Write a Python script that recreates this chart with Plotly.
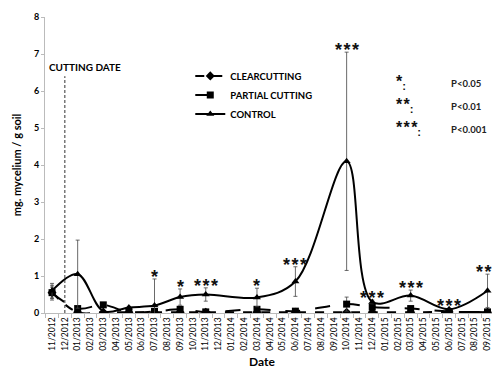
import plotly.graph_objects as go

# ---------------- data ----------------
all_months = ["11/2012", "12/2012"] + [f"{m:02d}/2013" for m in range(1, 13)] + \
             [f"{m:02d}/2014" for m in range(1, 13)] + [f"{m:02d}/2015" for m in range(1, 10)]

sample_months = ["11/2012", "01/2013", "03/2013", "05/2013", "07/2013", "09/2013", "11/2013",
                 "03/2014", "06/2014", "10/2014", "12/2014", "03/2015", "06/2015", "09/2015"]

clearcutting = [0.55, 0.02, 0.02, 0.02, 0.02, 0.02, 0.02, 0.02, 0.02, 0.02, 0.02, 0.02, 0.03, 0.02]
clear_err    = [0.15, 0.02, 0.02, 0.02, 0.02, 0.02, 0.02, 0.02, 0.02, 0.03, 0.02, 0.02, 0.02, 0.02]

partial      = [0.55, 0.12, 0.22, 0.02, 0.04, 0.10, 0.03, 0.10, 0.05, 0.24, 0.16, 0.12, 0.04, 0.03]
partial_err  = [0.20, 0.05, 0.05, 0.02, 0.03, 0.05, 0.02, 0.05, 0.03, 0.19, 0.05, 0.05, 0.02, 0.02]

control      = [0.60, 1.05, 0.05, 0.15, 0.20, 0.43, 0.50, 0.42, 0.85, 4.10, 0.30, 0.47, 0.10, 0.60]
control_err  = [0.20, 0.92, 0.03, 0.03, 0.72, 0.22, 0.18, 0.25, 0.40, 2.95, 0.05, 0.15, 0.03, 0.45]

significance = ["", "", "", "", "*", "*", "***", "*", "***", "***", "***", "***", "***", "**"]

cutting_date = "12/2012"
cutting_line_top = 6.4

sig_legend = [("*", "P<0.05"), ("**", "P<0.01"), ("***", "P<0.001")]

FONT = "Lato"
STAR_FONT = "Liberation Sans"
THIN = "&#8202;"

fig = go.Figure()

def add_series(name, y, err, dash, symbol, width):
    fig.add_trace(go.Scatter(
        x=sample_months, y=y, name=name, mode="lines+markers",
        line=dict(color="black", width=width, dash=dash, shape="spline", smoothing=1.0),
        marker=dict(symbol=symbol, size=7, color="black"),
        error_y=dict(type="data", array=err, visible=True, color="#444", thickness=0.8, width=2),
    ))

add_series("CLEARCUTTING", clearcutting, clear_err, "dash", "diamond", 2)
add_series("PARTIAL CUTTING", partial, partial_err, "longdash", "square", 2)
add_series("CONTROL", control, control_err, "solid", "triangle-up", 2)

def star_text(s):
    return THIN.join(s)

# significance stars above control bars
last = len(sample_months) - 1
for i, (m, v, e, s) in enumerate(zip(sample_months, control, control_err, significance)):
    if s:
        at_edge = i == last
        fig.add_annotation(x=m, y=v + e, text=star_text(s), showarrow=False, yanchor="bottom",
                           xanchor="right" if at_edge else "center",
                           xshift=6 if at_edge else 0, yshift=-10,
                           font=dict(family=STAR_FONT, size=18, color="#111", weight="bold"))

# cutting date line
fig.add_shape(type="line", xref="x", yref="y", x0=cutting_date, x1=cutting_date,
              y0=0, y1=cutting_line_top, line=dict(color="#333", width=1, dash="3px,2px"))
fig.add_annotation(x=-0.4, y=6.65, xref="x", yref="y", text="CUTTING DATE", showarrow=False,
                   xanchor="left", yanchor="middle",
                   font=dict(family=FONT, size=10, color="black", weight="bold"))

# significance legend
for i, (stars, p) in enumerate(sig_legend):
    yp = 0.78 - i * 0.078
    fig.add_annotation(xref="paper", yref="paper", x=0.78, y=yp,
                       text=star_text(stars) + "<sub>:</sub>",
                       showarrow=False, xanchor="left", yanchor="middle",
                       font=dict(family=STAR_FONT, size=16, color="#111", weight="bold"))
    fig.add_annotation(xref="paper", yref="paper", x=0.904, y=yp - 0.005, text=p,
                       showarrow=False, xanchor="left", yanchor="middle",
                       font=dict(family=FONT, size=9.5, color="#222", weight="bold"))

# x axis title
fig.add_annotation(xref="paper", yref="paper", x=0.485, y=-0.165, text="<b>Date</b>",
                   showarrow=False, xanchor="center", yanchor="middle",
                   font=dict(family=FONT, size=12, color="black"))

fig.update_layout(
    width=493, height=368,
    margin=dict(l=45, r=1, t=17, b=55),
    paper_bgcolor="white", plot_bgcolor="white",
    font=dict(family=FONT, color="black"),
    showlegend=True,
    legend=dict(x=0.325, y=0.85, xanchor="left", yanchor="top",
                bgcolor="rgba(0,0,0,0)", font=dict(family=FONT, size=9.5, weight="bold"),
                itemwidth=30, tracegroupgap=0),
    xaxis=dict(type="category", categoryorder="array", categoryarray=all_months,
               range=[-0.55, 34.35], tickangle=-90, tickfont=dict(size=8.5, family=FONT),
               showline=True, linecolor="#bbb", linewidth=1, ticks="outside",
               tickson="boundaries", ticklen=4, tickcolor="#bbb", showgrid=False,
               automargin=False),
    yaxis=dict(range=[0, 8], dtick=1, showline=True, linecolor="#bbb", linewidth=1,
               ticks="outside", ticklen=3, tickcolor="#bbb", showgrid=False, zeroline=False,
               automargin=False,
               tickfont=dict(size=9, family=FONT, weight="bold"),
               title=dict(text="<b>mg. mycelium / g soil</b>", font=dict(size=11, family=FONT),
                          standoff=10)),
)

fig.write_html("out.html", config={"displayModeBar": False},
               post_script="document.body.style.margin='0px';")
